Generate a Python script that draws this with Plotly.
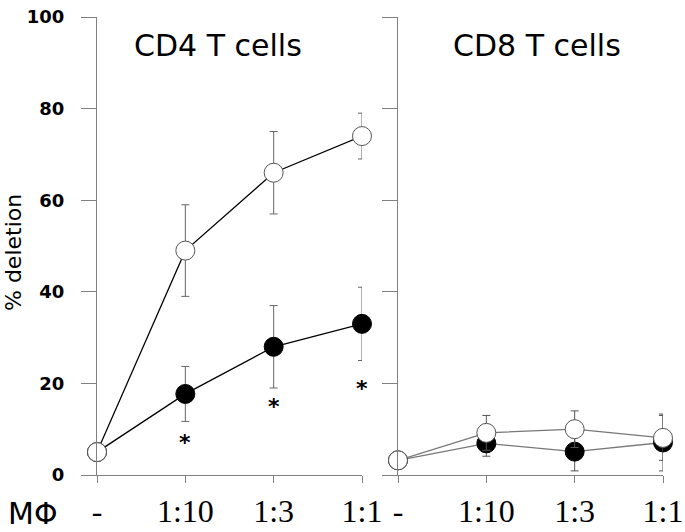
import plotly.graph_objects as go

# ---- data ----
categories = ["-", "1:10", "1:3", "1:1"]
cat_pos = [0, 1, 2, 3]

cd4_open = [5, 49, 66, 74]
cd4_open_err = [0, 10, 9, 5]
cd4_filled = [5, 17.7, 28, 33]
cd4_filled_err = [0, 6, 9, 8]

cd8_open = [3.2, 9.2, 10, 8.1]
cd8_open_err = [0, 3.8, 4, 4.9]
cd8_filled = [3.2, 6.9, 5.1, 7.1]
cd8_filled_err = [0, 2.8, 4.2, 6.2]

star_x = [1, 2, 3]
star_y = [7.6, 15.5, 19.3]

y_ticks = [0, 20, 40, 60, 80, 100]

W, H = 685, 532
ML, MR, MT, MB = 97, 22, 17, 57
PW = W - ML - MR
PH = H - MT - MB

AX = "#808080"
ERR = "#666666"

fig = go.Figure()


def add_series(x, y, err, xa, ya, filled, line_color, err_color):
    fig.add_trace(go.Scatter(
        x=x, y=y, xaxis=xa, yaxis=ya, mode="lines+markers",
        line=dict(color=line_color, width=1.3),
        marker=dict(size=19,
                    color="black" if filled else "white",
                    line=dict(color="#555555" if not filled else "black", width=1)),
        error_y=dict(type="data", array=err, visible=True, color=err_color,
                     thickness=1, width=4),
        cliponaxis=False, showlegend=False, hoverinfo="skip"))


add_series(cat_pos, cd4_filled, cd4_filled_err, "x", "y", True, "black", ERR)
add_series(cat_pos, cd4_open, cd4_open_err, "x", "y", False, "black", ERR)
add_series(cat_pos, cd8_filled, cd8_filled_err, "x2", "y2", True, "#777777", "#555555")
add_series(cat_pos, cd8_open, cd8_open_err, "x2", "y2", False, "#777777", "#555555")

xfont = dict(family="Liberation Serif", size=32, color="black")
yfont = dict(family="DejaVu Sans", size=18, color="black", weight="bold")

common_x = dict(range=[0, 3], tickvals=cat_pos, ticktext=categories,
                ticks="outside", ticklen=7, tickwidth=1, tickcolor=AX,
                showline=True, linecolor=AX, linewidth=1,
                showgrid=False, zeroline=False, tickfont=xfont,
                ticklabelstandoff=1, automargin=False)
common_y = dict(range=[0, 100], tickvals=y_ticks,
                ticks="outside", ticklen=15, tickwidth=1, tickcolor=AX,
                showline=True, linecolor=AX, linewidth=1,
                showgrid=False, zeroline=False, tickfont=yfont,
                ticklabelstandoff=13, automargin=False)

left_end = (362 - ML) / PW
right_start = (398 - ML) / PW

fig.update_layout(
    width=W, height=H,
    margin=dict(l=ML, r=MR, t=MT, b=MB, autoexpand=False),
    plot_bgcolor="white", paper_bgcolor="white",
    xaxis=dict(domain=[0, left_end], anchor="y", **common_x),
    yaxis=dict(domain=[0, 1], anchor="x", **common_y),
    xaxis2=dict(domain=[right_start, 1], anchor="y2", **common_x),
    yaxis2=dict(domain=[0, 1], anchor="x2", showticklabels=False, **common_y),
)

title_font = dict(family="DejaVu Sans", size=30, color="black")
fig.add_annotation(text="CD4 T cells", xref="x domain", yref="paper",
                   x=(218 - ML) / 265, y=1 - (45 - MT) / PH,
                   showarrow=False, font=title_font, xanchor="center", yanchor="middle")
fig.add_annotation(text="CD8 T cells", xref="x2 domain", yref="paper",
                   x=(537 - 398) / 265, y=1 - (45 - MT) / PH,
                   showarrow=False, font=title_font, xanchor="center", yanchor="middle")

fig.add_annotation(text="% deletion", xref="paper", yref="paper",
                   x=(13 - ML) / PW, y=1 - (253 - MT) / PH, textangle=-90,
                   showarrow=False, font=dict(family="DejaVu Sans", size=22, color="black"),
                   xanchor="center", yanchor="middle")

fig.add_annotation(text="MΦ", xref="paper", yref="paper",
                   x=(33 - ML) / PW, y=(475 - 513) / PH,
                   showarrow=False, font=dict(family="DejaVu Sans", size=30, color="black"),
                   xanchor="center", yanchor="middle")

for sx, sy in zip(star_x, star_y):
    fig.add_annotation(text="*", x=sx, y=sy, xref="x", yref="y",
                       showarrow=False, yshift=-2,
                       font=dict(family="DejaVu Sans", size=22, color="black", weight="bold"),
                       xanchor="center", yanchor="middle")

fig.write_html("out.html", config={"displayModeBar": False},
               post_script="document.body.style.margin='0';document.body.style.padding='0';")
